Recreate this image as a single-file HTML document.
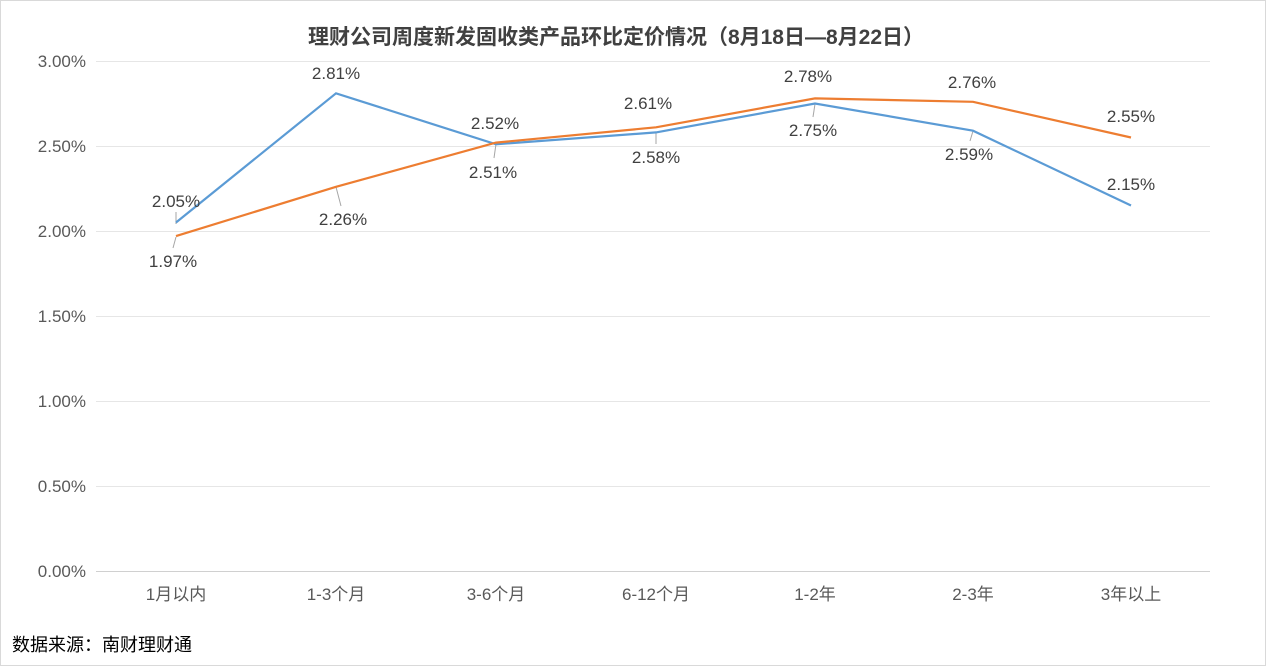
<!DOCTYPE html>
<html><head><meta charset="utf-8"><style>
body{margin:0;background:#fff;}
svg{display:block;font-family:"Liberation Sans","Noto Sans CJK SC",sans-serif;}
</style></head><body>
<svg width="1266" height="666" viewBox="0 0 1266 666">
<rect x="0.5" y="0.5" width="1265" height="665" fill="#fff" stroke="#d9d9d9"/>
<text x="616" y="44" text-anchor="middle" font-size="21" font-weight="bold" fill="#404040">理财公司周度新发固收类产品环比定价情况（8月18日—8月22日）</text>
<g stroke="#e6e6e6" stroke-width="1">
<line x1="96" x2="1210" y1="61.5" y2="61.5"/><line x1="96" x2="1210" y1="146.5" y2="146.5"/>
<line x1="96" x2="1210" y1="231.5" y2="231.5"/><line x1="96" x2="1210" y1="316.5" y2="316.5"/>
<line x1="96" x2="1210" y1="401.5" y2="401.5"/><line x1="96" x2="1210" y1="486.5" y2="486.5"/>
</g>
<line x1="96" x2="1210" y1="571.5" y2="571.5" stroke="#d0d0d0"/>
<g font-size="17" fill="#595959" text-anchor="end">
<text x="86" y="67">3.00%</text><text x="86" y="152">2.50%</text><text x="86" y="237">2.00%</text>
<text x="86" y="322">1.50%</text><text x="86" y="407">1.00%</text><text x="86" y="492">0.50%</text><text x="86" y="577">0.00%</text>
</g>
<g font-size="17" fill="#595959" text-anchor="middle">
<text x="176" y="600">1月以内</text><text x="336" y="600">1-3个月</text><text x="496" y="600">3-6个月</text>
<text x="656" y="600">6-12个月</text><text x="815" y="600">1-2年</text><text x="973" y="600">2-3年</text><text x="1131" y="600">3年以上</text>
</g>
<g stroke="#a6a6a6" stroke-width="1">
<line x1="176" y1="224" x2="176" y2="212"/>
<line x1="176" y1="237" x2="173" y2="248"/>
<line x1="336" y1="187" x2="341" y2="206"/>
<line x1="496" y1="144" x2="494" y2="158"/>
<line x1="656" y1="132" x2="656" y2="144"/>
<line x1="815" y1="104" x2="813" y2="117"/>
<line x1="973" y1="131" x2="970" y2="141"/>
</g>
<polyline fill="none" stroke="#5b9bd5" stroke-width="2.2" points="176,222.5 336,93.3 496,144.3 656,132.4 815,103.5 973,130.7 1131,205.5"/>
<polyline fill="none" stroke="#ed7d31" stroke-width="2.2" points="176,236.1 336,186.8 496,142.6 656,127.3 815,98.4 973,101.8 1131,137.5"/>
<g font-size="17" fill="#404040" text-anchor="middle">
<text x="176" y="207">2.05%</text><text x="336" y="79">2.81%</text><text x="493" y="178">2.51%</text>
<text x="656" y="163">2.58%</text><text x="813" y="136">2.75%</text><text x="969" y="160">2.59%</text><text x="1131" y="190">2.15%</text>
<text x="173" y="267">1.97%</text><text x="343" y="225">2.26%</text><text x="495" y="129">2.52%</text>
<text x="648" y="109">2.61%</text><text x="808" y="82">2.78%</text><text x="972" y="88">2.76%</text><text x="1131" y="122">2.55%</text>
</g>
<text x="12" y="651" font-size="18" fill="#000">数据来源：南财理财通</text>
</svg>
</body></html>
